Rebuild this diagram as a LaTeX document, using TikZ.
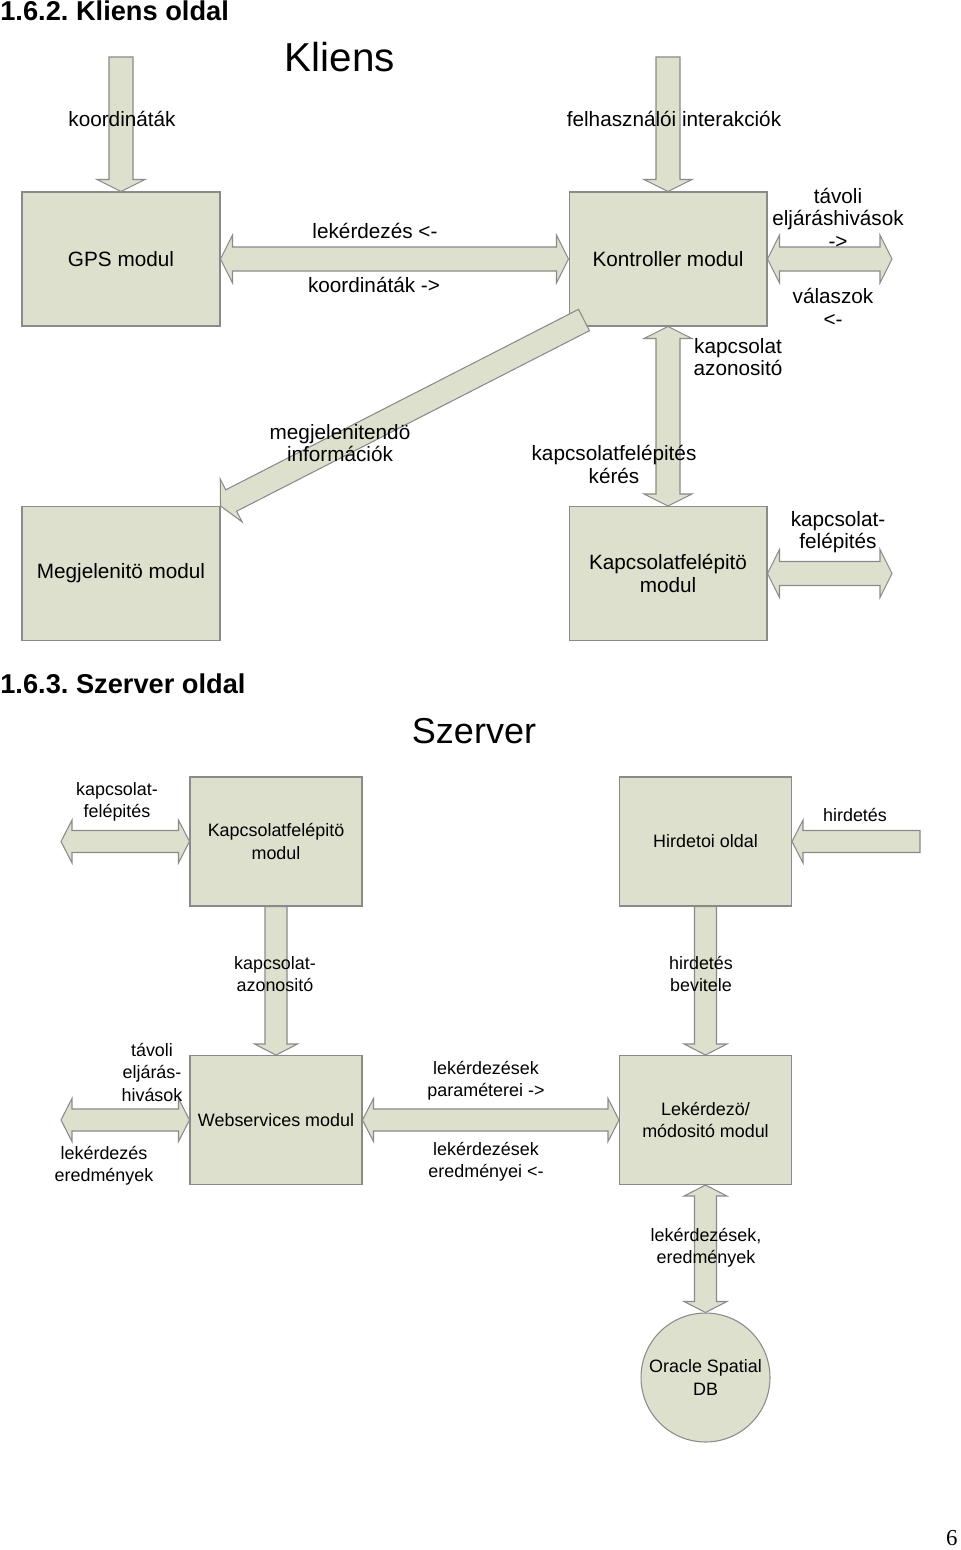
\documentclass[tikz,border=0pt]{standalone}
\usepackage{fontspec}
\setmainfont{Liberation Sans}
\newfontfamily\pagefont{Liberation Serif}
\usetikzlibrary{calc}
\frenchspacing
\definecolor{Sage}{HTML}{DDE0CC}
\definecolor{Edge}{HTML}{8A8A8A}
\newcommand{\kliensfont}{\fontsize{11.8}{12.8}\selectfont}
\newcommand{\szerverfont}{\fontsize{10.2}{12.8}\selectfont}
\newcommand{\headfont}{\fontsize{15.5}{18}\selectfont\bfseries}
% block arrows: shaft half width, head half width, head length
\def\shaftw{0.24cm}\def\headw{0.48cm}\def\headl{0.24cm}
\newcommand{\dblarrow}[2]{%
  \coordinate (u) at ($(#1)!\headl!(#2)$);
  \coordinate (v) at ($(#2)!\headl!(#1)$);
  \filldraw[blockarrow] (#1) -- ($(u)!\headw!90:(#2)$) -- ($(u)!\shaftw!90:(#2)$)
    -- ($(v)!\shaftw!-90:(#1)$) -- ($(v)!\headw!-90:(#1)$) -- (#2)
    -- ($(v)!\headw!90:(#1)$) -- ($(v)!\shaftw!90:(#1)$)
    -- ($(u)!\shaftw!-90:(#2)$) -- ($(u)!\headw!-90:(#2)$) -- cycle;}
\newcommand{\sglarrow}[2]{%
  \coordinate (v) at ($(#2)!\headl!(#1)$);
  \filldraw[blockarrow] ($(#1)!\shaftw!90:(#2)$) -- ($(v)!\shaftw!-90:(#1)$)
    -- ($(v)!\headw!-90:(#1)$) -- (#2) -- ($(v)!\headw!90:(#1)$)
    -- ($(v)!\shaftw!90:(#1)$) -- ($(#1)!\shaftw!-90:(#2)$) -- cycle;}
\tikzset{
  blockarrow/.style={fill=Sage, draw=Edge, line width=0.6pt, line join=miter},
  modbox/.style={rectangle, draw=Edge, fill=Sage, line width=0.6pt, align=center, font=\kliensfont, minimum width=3.96cm, minimum height=2.68cm, inner sep=2pt},
  srvbox/.style={modbox, font=\szerverfont, minimum width=3.44cm, minimum height=2.58cm},
  dbnode/.style={circle, draw=Edge, fill=Sage, line width=0.6pt, align=center, font=\szerverfont, minimum size=2.58cm, inner sep=1pt},
  klabel/.style={font=\kliensfont, align=center, inner sep=0pt},
  slabel/.style={font=\szerverfont, align=center, inner sep=0pt},
}
\begin{document}
\begin{tikzpicture}[x=0.02cm,y=-0.02cm]
\useasboundingbox (0,0) rectangle (960,1550);

% Kliens oldal
\node[anchor=base west, inner sep=0, font=\headfont] (h1) at (0,21) {1.6.2. Kliens oldal};
\node[anchor=base, inner sep=0, font=\fontsize{23}{25}\selectfont] (kt) at (340,72) {Kliens};

\node[modbox] (gps) at (121,259) {GPS modul};
\node[modbox] (ctrl) at (668,259) {Kontroller modul};
\node[modbox] (megj) at (121,573.5) {Megjelenitö modul};
\node[modbox] (kfel) at (668,573.5) {Kapcsolatfelépitö\\modul};

\coordinate (gpsin) at (121,57);
\coordinate (ctrlin) at (668,57);
\coordinate (rpc) at (892,259);
\coordinate (conn) at (892,573.5);
\coordinate (disp) at (584,320);
\sglarrow{gpsin}{gps.north}
\sglarrow{ctrlin}{ctrl.north}
\dblarrow{gps.east}{ctrl.west}
\dblarrow{ctrl.east}{rpc}
\dblarrow{ctrl.south}{kfel.north}
\dblarrow{kfel.east}{conn}
\sglarrow{disp}{megj.north east}

\node[klabel] (l1) at (122,119) {koordináták};
\node[klabel] (l2) at (674,119) {felhasználói interakciók};
\node[klabel] (l3) at (375,231) {lekérdezés <-};
\node[klabel] (l4) at (374,285) {koordináták ->};
\node[klabel] (l5) at (838,218) {távoli\\eljáráshivások\\->};
\node[klabel] (l6) at (833,307.5) {válaszok\\<-};
\node[klabel] (l7) at (738,357) {kapcsolat\\azonositó};
\node[klabel] (l8) at (340,443) {megjelenitendö\\információk};
\node[klabel] (l9) at (614,464.5) {kapcsolatfelépités\\kérés};
\node[klabel] (l10) at (838,532) {kapcsolat-\\felépités};

% Szerver oldal
\node[anchor=base west, inner sep=0, font=\headfont] (h2) at (0,693) {1.6.3. Szerver oldal};
\node[anchor=base, inner sep=0, font=\fontsize{20.5}{22}\selectfont] (st) at (474,743) {Szerver};

\node[srvbox] (srvk) at (276,841.5) {Kapcsolatfelépitö\\modul};
\node[srvbox] (hird) at (705.5,841.5) {Hirdetoi oldal};
\node[srvbox] (ws) at (276,1120) {Webservices modul};
\node[srvbox] (lek) at (705.5,1120) {Lekérdezö/\\módositó modul};
\node[dbnode] (db) at (705.5,1377.5) {Oracle Spatial\\DB};

\def\shaftw{0.22cm}\def\headw{0.43cm}\def\headl{0.22cm}
\coordinate (sconn) at (61,841.5);
\coordinate (adin) at (920,841.5);
\coordinate (wsout) at (61,1120);
\dblarrow{sconn}{srvk.west}
\sglarrow{adin}{hird.east}
\sglarrow{srvk.south}{ws.north}
\sglarrow{hird.south}{lek.north}
\dblarrow{wsout}{ws.west}
\dblarrow{ws.east}{lek.west}
\dblarrow{lek.south}{db.north}

\node[slabel] (s1) at (117,802) {kapcsolat-\\felépités};
\node[slabel] (s2) at (855,815) {hirdetés};
\node[slabel] (s3) at (275,974) {kapcsolat-\\azonositó};
\node[slabel] (s4) at (701,974) {hirdetés\\bevitele};
\node[slabel] (s5) at (152,1072) {távoli\\eljárás-\\hivások};
\node[slabel] (s6) at (104,1166) {lekérdezés\\eredmények};
\node[slabel] (s7) at (486,1081) {lekérdezések\\paraméterei ->};
\node[slabel] (s8) at (486,1162) {lekérdezések\\eredményei <-};
\node[slabel] (s9) at (706,1248) {lekérdezések,\\eredmények};

\node[anchor=base east, inner sep=0, font=\pagefont\fontsize{13}{15}\selectfont] (pg) at (958,1545) {6};
\end{tikzpicture}
\end{document}
